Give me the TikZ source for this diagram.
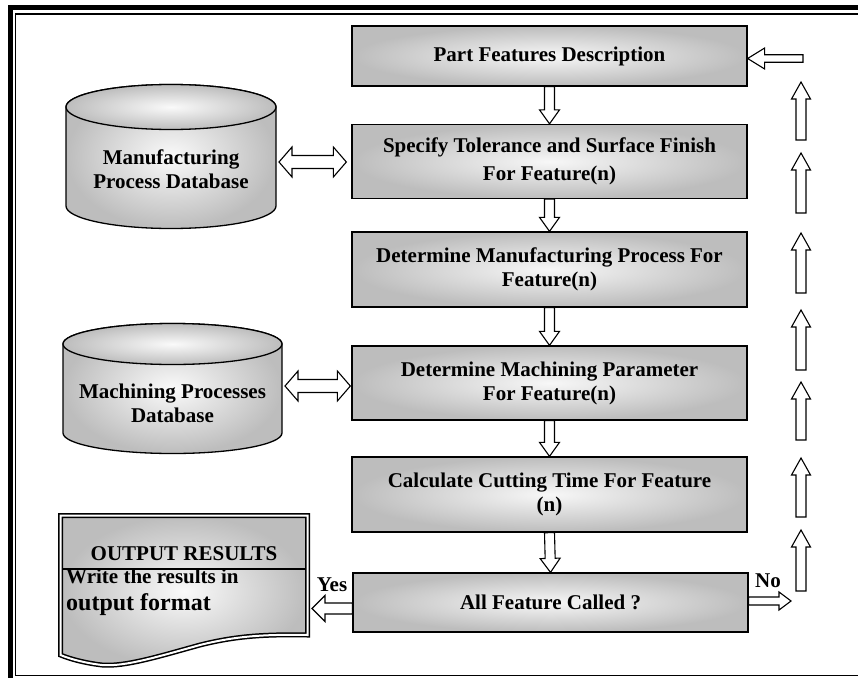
\documentclass[tikz,border=0pt]{standalone}
\usepackage{fontspec}
\setmainfont{Liberation Serif}
\usetikzlibrary{calc}

\makeatletter
% hollow block arrow from #1 to #2; #3 shaft half-width, #4 head half-width, #5 head length
\newcommand\blockarrow[5]{%
  \path (#1) coordinate (ba-s) (#2) coordinate (ba-e);
  \pgfpointanchor{ba-s}{center}\pgfgetlastxy{\ba@sx}{\ba@sy}%
  \pgfpointanchor{ba-e}{center}\pgfgetlastxy{\ba@ex}{\ba@ey}%
  \pgfmathsetmacro\ba@ang{atan2(\ba@ey-\ba@sy,\ba@ex-\ba@sx)}%
  \pgfmathsetmacro\ba@len{veclen(\ba@ex-\ba@sx,\ba@ey-\ba@sy)}%
  \pgfmathsetmacro\ba@neck{\ba@len-#5}%
  \draw[hollow, shift={(ba-s)}, rotate=\ba@ang, x=1pt, y=1pt]
    (0,-#3) -- (\ba@neck,-#3) -- (\ba@neck,-#4) -- (\ba@len,0)
    -- (\ba@neck,#4) -- (\ba@neck,#3) -- (0,#3) -- cycle;
}
% the same with a head at both ends
\newcommand\dblockarrow[5]{%
  \path (#1) coordinate (ba-s) (#2) coordinate (ba-e);
  \pgfpointanchor{ba-s}{center}\pgfgetlastxy{\ba@sx}{\ba@sy}%
  \pgfpointanchor{ba-e}{center}\pgfgetlastxy{\ba@ex}{\ba@ey}%
  \pgfmathsetmacro\ba@ang{atan2(\ba@ey-\ba@sy,\ba@ex-\ba@sx)}%
  \pgfmathsetmacro\ba@len{veclen(\ba@ex-\ba@sx,\ba@ey-\ba@sy)}%
  \pgfmathsetmacro\ba@neck{\ba@len-#5}%
  \draw[hollow, shift={(ba-s)}, rotate=\ba@ang, x=1pt, y=1pt]
    (0,0) -- (#5,-#4) -- (#5,-#3) -- (\ba@neck,-#3) -- (\ba@neck,-#4) -- (\ba@len,0)
    -- (\ba@neck,#4) -- (\ba@neck,#3) -- (#5,#3) -- (#5,#4) -- cycle;
}
% database drum: centre x, top y, bottom y, x radius, y radius
\newcommand\drum[5]{%
  \path[drumfill] (#1-#4,#2) -- (#1-#4,#3)
    arc[start angle=180, end angle=0, x radius=#4, y radius=#5]
    -- (#1+#4,#2) arc[start angle=0, end angle=-180, x radius=#4, y radius=#5] -- cycle;
  \path[drumfill] (#1,#2) ellipse [x radius=#4, y radius=#5];
}
\makeatother

\tikzset{
  every node/.style={font=\bfseries\fontsize{21}{24}\selectfont, inner sep=0pt, text=black},
  procbox/.style={draw=black, line width=1.3pt, minimum width=395pt,
    inner color=gray!6, outer color=gray!52, align=center},
  drumfill/.style={draw=black, line width=1.3pt, inner color=gray!4, outer color=gray!52},
  hollow/.style={draw=black, line width=1.1pt, fill=white, line join=miter},
}

\begin{document}
\begin{tikzpicture}[x=1pt, y=-1pt]
\useasboundingbox (0,0) rectangle (858,677);

% page frame
\draw[line width=5pt] (10,680) -- (10,7.5) -- (870,7.5);
\draw[line width=1.4pt] (870,14) -- (15.5,14) -- (15.5,675.5) -- (870,675.5);

% process steps
\node[procbox, minimum height=60pt] (pfd) at (549.5,56) {Part Features Description};
\node[procbox, minimum height=74pt] (spec) at (549.5,161.5)
  {Specify Tolerance and Surface Finish\\[4pt]For Feature(n)};
\node[procbox, minimum height=75pt] (dmp) at (549.5,269.5)
  {Determine Manufacturing Process For\\Feature(n)};
\node[procbox, minimum height=74pt] (dmm) at (549.5,383)
  {Determine Machining Parameter\\For Feature(n)};
\node[procbox, minimum height=75pt] (calc) at (549.5,494.5)
  {Calculate Cutting Time For Feature\\(n)};
\node[procbox, minimum height=59pt] (all) at (550.5,602.5) {All Feature Called ?};

% databases
\drum{171}{107}{206}{105}{22.5}
\node[align=center] (mpd) at (171,169) {Manufacturing\\Process Database};
\drum{172.5}{344}{433}{109.5}{20.5}
\node[align=center] (mchd) at (172.5,403) {Machining Processes\\Database};

% output document
\path[draw=black, line width=1.5pt, double=white, double distance=2pt,
      inner color=gray!4, outer color=gray!52]
  (60.5,515.5) -- (307.5,515.5) -- (307.5,635)
  .. controls (260,634) and (232,637) .. (200,645)
  .. controls (160,656) and (125,667) .. (102,665)
  .. controls (85,663) and (70,659) .. (60.5,655) -- cycle;
\draw[line width=1.4pt] (63,569) -- (305,569);
\node[anchor=base] (out) at (184,560) {OUTPUT RESULTS};
\node[anchor=base west] (outw) at (66,583) {Write the results in};
\node[anchor=base west, font=\bfseries\fontsize{24}{28}\selectfont] (outf) at (66,610) {output format};

% main flow
\blockarrow{pfd.south}{spec.north}{5}{10}{14}
\blockarrow{spec.south}{dmp.north}{5}{10}{14}
\blockarrow{dmp.south}{dmm.north}{5}{10}{14}
\blockarrow{dmm.south}{calc.north}{5}{10}{14}
\blockarrow{calc.south}{all.north}{5}{10}{14}

% database links
\coordinate (mpd-e) at (279,162);
\dblockarrow{mpd-e}{[xshift=-5pt]spec.west |- mpd-e}{6.5}{15}{13}
\coordinate (mchd-e) at (285,386);
\dblockarrow{mchd-e}{[xshift=-1pt]dmm.west |- mchd-e}{6.5}{15}{13}

% decision outcomes
\coordinate (yes-end) at (312,608.5);
\blockarrow{[yshift=-6pt]all.west}{yes-end}{5.5}{13}{13}
\node (yes) at (332,585) {Yes};
\coordinate (no-end) at (791,601);
\blockarrow{all.east |- no-end}{no-end}{4}{9}{12}
\node (no) at (768,581) {No};

% loop back to the first step
\coordinate (u1) at (801,591); \coordinate (v1) at (801,530);
\coordinate (u2) at (801,517); \coordinate (v2) at (801,458);
\coordinate (u3) at (801,440); \coordinate (v3) at (801,382);
\coordinate (u4) at (801,370); \coordinate (v4) at (801,310);
\coordinate (u5) at (801,293); \coordinate (v5) at (801,233);
\coordinate (u6) at (801,213); \coordinate (v6) at (801,153);
\coordinate (u7) at (801,140); \coordinate (v7) at (801,82);
\foreach \i in {1,...,7}{\blockarrow{u\i}{v\i}{5}{9.5}{17}}
\coordinate (back) at (803,58.5);
\blockarrow{back}{pfd.east |- back}{3.7}{10.5}{17}
\end{tikzpicture}
\end{document}
